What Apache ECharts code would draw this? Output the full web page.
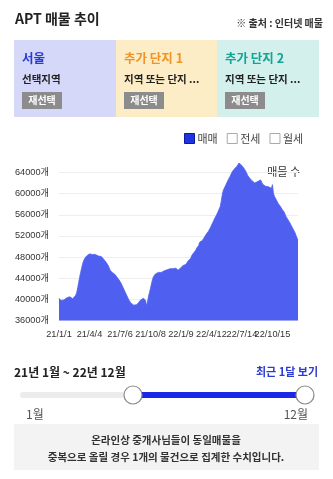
<!DOCTYPE html>
<html>
<head>
<meta charset="utf-8">
<script src="https://cdn.jsdelivr.net/npm/echarts@6/dist/echarts.min.js"></script>
<style>
html,body{margin:0;padding:0;background:#fff;}
#c{width:333px;height:479px;}
</style>
</head>
<body>
<div id="c"></div>
<script>
// ---- data ----
var startDate = [2021, 1, 1];   // first category date
var stepDays = 3;               // days between categories
var gapAfterIndex = 62;         // source skips one day after 21/7/6
var labelEvery = 31;            // one x label every 31 categories
var listingCounts = [
  40200, 39900, 39800, 39900, 40000, 39900, 40100, 40000, 40300, 40100,
  40600, 40500, 40200, 40600, 40100, 40000, 40300, 40800, 41300, 42200,
  43200, 44200, 45100, 45900, 46700, 47300, 47700, 48000, 48200, 48400,
  48500, 48600, 48500, 48600, 48500, 48500, 48400, 48500, 48400, 48300,
  48200, 48100, 48000, 48100, 47800, 47700, 47500, 47400, 47000, 46800,
  46400, 46000, 45500, 45300, 45100, 45000, 44900, 44700, 44500, 44200,
  44000, 43700, 43400, 43100, 42700, 42300, 41900, 41500, 41100, 40700,
  40300, 39900, 39600, 39300, 39100, 39000, 38900, 39000, 39100, 39000,
  39200, 39400, 39700, 39900, 40100, 40000, 40200, 40300, 39800, 38800,
  39500, 40600, 41300, 42100, 42900, 43700, 44300, 44600, 44800, 45000,
  44900, 45100, 45000, 45200, 45100, 45300, 45200, 45400, 45300, 45500,
  45600, 45500, 45700, 45800, 45700, 45900, 45800, 45900, 46000, 45900,
  45700, 45500, 45600, 45800, 46000, 46200, 46400, 46500, 46300, 46600,
  46900, 47200, 47500, 47400, 47800, 48300, 48200, 48800, 49000, 49300,
  49700, 50000, 50200, 50800, 50600, 50900, 51200, 51400, 51800, 52100,
  52400, 52700, 52900, 53200, 53600, 54000, 54400, 54800, 55200, 55500,
  55900, 56300, 56700, 57000, 57600, 58600, 59800, 60600, 61000, 61400,
  61800, 62200, 62600, 62900, 63300, 63700, 64100, 64400, 64600, 64800,
  64900, 65200, 65500, 65800, 65600, 65700, 65300, 65100, 64800, 64600,
  64200, 63800, 63400, 63100, 62900, 62700, 62500, 62300, 62200, 62000,
  62100, 62000, 62300, 62500, 62400, 62600, 62200, 61800, 61600, 61500,
  61400, 61300, 61200, 61300, 61100, 61200, 61000, 61700, 60100, 59500,
  59200, 58800, 58500, 58100, 57800, 57600, 57300, 57000, 56800, 56500,
  56200, 55600, 55300, 55000, 54700, 54400, 54000, 53700, 53300, 53100,
  52600, 52100, 51600, 51200
];
var yTicks = [36000, 40000, 44000, 48000, 52000, 56000, 60000, 64000];
var legendNames = ['매매', '전세', '월세'];
var regionTitles = ['서울', '추가 단지 1', '추가 단지 2'];
var regionSubs = ['선택지역', '지역 또는 단지 ...', '지역 또는 단지 ...'];
var rangeText = '21년 1월 ~ 22년 12월';
var sliderLabels = ['1월', '12월'];
var noteLines = ['온라인상 중개사님들이 동일매물을', '중복으로 올릴 경우 1개의 물건으로 집계한 수치입니다.'];

// categories built from start date
var dates = [];
(function(){
  var t = Date.UTC(startDate[0], startDate[1]-1, startDate[2]);
  for (var i = 0; i < listingCounts.length; i++) {
    var days = i*stepDays + (i > gapAfterIndex ? 1 : 0);
    var d = new Date(t + days*86400000);
    dates.push(String(d.getUTCFullYear()).slice(2) + '/' + (d.getUTCMonth()+1) + '/' + d.getUTCDate());
  }
})();
var lastIdx = dates.length - 1;

var KR = '"Noto Sans CJK KR", "Noto Sans", sans-serif';
var NUM = '"Liberation Sans", Arial, "Noto Sans CJK KR", sans-serif';

var boxes = [
  {x:14, w:102, fill:'#d6d8fa', tc:'#2a3bd2'},
  {x:116, w:101, fill:'#fdedc6', tc:'#ef9428'},
  {x:217, w:102, fill:'#d3f0ec', tc:'#15a396'}
];
var graphics = [];
graphics.push({type:'text', left:15, top:12, style:{text:'APT 매물 추이', font:'bold 14px ' + KR, fill:'#222'}});
graphics.push({type:'text', right:10, top:18, style:{text:'※ 출처 : 인터넷 매물', font:'bold 10px ' + KR, fill:'#333'}});
boxes.forEach(function(b, i){
  graphics.push({type:'rect', shape:{x:b.x, y:40, width:b.w, height:77}, style:{fill:b.fill}});
  graphics.push({type:'text', x:b.x+8, y:58, style:{text:regionTitles[i], font:'bold 12.5px ' + KR, fill:b.tc, verticalAlign:'middle'}});
  graphics.push({type:'text', x:b.x+8, y:79, style:{text:regionSubs[i], font:'bold 10.5px ' + KR, fill:'#222', verticalAlign:'middle'}});
  graphics.push({type:'rect', shape:{x:b.x+8, y:92, width:40, height:17}, style:{fill:'#8c8c8c'}});
  graphics.push({type:'text', x:b.x+28, y:100.5, style:{text:'재선택', font:'bold 10px ' + KR, fill:'#fff', align:'center', verticalAlign:'middle'}});
});
graphics.push({type:'text', x:300, y:172, style:{text:'매물 수', font:'11px ' + KR, fill:'#333', align:'right', verticalAlign:'middle'}});
// bottom
graphics.push({type:'text', x:14, y:372, style:{text:rangeText, font:'bold 12px ' + KR, fill:'#222', verticalAlign:'middle'}});
graphics.push({type:'text', x:318, y:372, style:{text:'최근 1달 보기', font:'bold 11px ' + KR, fill:'#2a3bd2', align:'right', verticalAlign:'middle'}});
graphics.push({type:'line', shape:{x1:23, y1:395, x2:303, y2:395}, style:{stroke:'#ececec', lineWidth:6, lineCap:'round'}});
graphics.push({type:'line', shape:{x1:133, y1:395, x2:305, y2:395}, style:{stroke:'#1c28e6', lineWidth:6}});
graphics.push({type:'circle', shape:{cx:133, cy:395, r:9}, style:{fill:'#fff', stroke:'#8a8a8a', lineWidth:1.2}});
graphics.push({type:'circle', shape:{cx:305, cy:395, r:9}, style:{fill:'#fff', stroke:'#8a8a8a', lineWidth:1.2}});
graphics.push({type:'text', x:26, y:414, style:{text:sliderLabels[0], font:'12px ' + KR, fill:'#555', verticalAlign:'middle'}});
graphics.push({type:'text', x:308, y:414, style:{text:sliderLabels[1], font:'12px ' + KR, fill:'#555', align:'right', verticalAlign:'middle'}});
graphics.push({type:'rect', shape:{x:14, y:424, width:305, height:46}, style:{fill:'#f3f3f3'}});
graphics.push({type:'text', x:166, y:440, style:{text:noteLines[0], font:'bold 10.5px ' + KR, fill:'#333', align:'center', verticalAlign:'middle'}});
graphics.push({type:'text', x:166, y:457, style:{text:noteLines[1], font:'bold 10.5px ' + KR, fill:'#333', align:'center', verticalAlign:'middle'}});

var chart = echarts.init(document.getElementById('c'));
chart.setOption({
  animation: false,
  backgroundColor: '#fff',
  graphic: graphics,
  legend: {
    left: 184, top: 133, padding: 0,
    itemWidth: 10, itemHeight: 10, itemGap: 9,
    icon: 'rect',
    textStyle: {fontFamily: KR, fontSize: 11, color: '#444', padding: [0,0,0,-2]},
    data: [
      {name: legendNames[0], itemStyle: {color: '#1f33e3', borderColor: '#0b1a9a', borderWidth: 1}},
      {name: legendNames[1], itemStyle: {color: '#fff', borderColor: '#aaa', borderWidth: 1}},
      {name: legendNames[2], itemStyle: {color: '#fff', borderColor: '#aaa', borderWidth: 1}}
    ]
  },
  grid: {left: 59, right: 35, top: 172.5, bottom: 158.5, containLabel: false, outerBoundsMode: 'none'},
  xAxis: {
    type: 'category',
    data: dates,
    boundaryGap: false,
    axisLine: {show: false},
    axisTick: {show: false},
    axisLabel: {
      interval: function(index){ return index % labelEvery === 0 || index === lastIdx; },
      hideOverlap: false, color: '#333', margin: 9,
      formatter: function(v, idx){ return idx === lastIdx ? '{d| }' : '{d|' + v + '}'; },
      rich: {d: {width: 8, align: 'center', fontFamily: NUM, fontSize: 9.2, color: '#333'}}
    }
  },
  yAxis: {
    type: 'value',
    min: yTicks[0], max: yTicks[yTicks.length-1], interval: 4000,
    axisLine: {show: false},
    axisTick: {show: false},
    axisLabel: {fontFamily: NUM, fontSize: 9.2, color: '#333', margin: 10, formatter: function(v){ return v + '개'; }},
    splitLine: {lineStyle: {color: '#eeeeee', width: 1}}
  },
  series: [
    {name: legendNames[0], type: 'line', data: listingCounts, showSymbol: false, clip: false,
     lineStyle: {width: 0.8, color: '#4f5ff0'}, itemStyle: {color: '#4f5ff0'},
     areaStyle: {color: '#4f5ff0', opacity: 1}},
    {name: legendNames[1], type: 'line', data: [], itemStyle: {color: '#fff'}},
    {name: legendNames[2], type: 'line', data: [], itemStyle: {color: '#fff'}}
  ]
});
</script>
</body>
</html>
